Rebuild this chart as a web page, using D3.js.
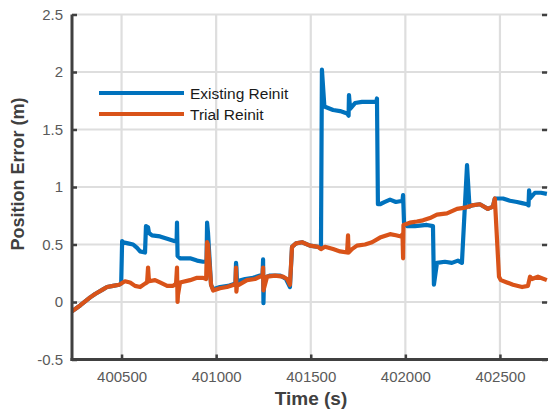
<!DOCTYPE html>
<html>
<head>
<meta charset="utf-8">
<script src="https://cdn.jsdelivr.net/npm/d3@7"></script>
<style>
  html, body { margin: 0; padding: 0; background: #fff; }
  svg { display: block; font-family: "Liberation Sans", Arial, sans-serif; }
</style>
</head>
<body>
<svg id="chart" width="548" height="414"></svg>
<script>
// Position error over time for the two reinitialisation strategies: [time (s), error (m)]
const existingReinit = [
  [400238, -0.08], [400281, -0.03], [400334, 0.04], [400360, 0.07], [400402, 0.11], [400423, 0.13],
  [400455, 0.14], [400487, 0.15], [400498, 0.16], [400503, 0.53], [400508, 0.52], [400534, 0.51],
  [400561, 0.50], [400582, 0.47], [400598, 0.44], [400624, 0.43], [400629, 0.66], [400640, 0.65],
  [400645, 0.60], [400661, 0.58], [400703, 0.57], [400741, 0.55], [400778, 0.53], [400791, 0.53],
  [400793, 0.69], [400796, 0.40], [400809, 0.38], [400862, 0.38], [400899, 0.36], [400931, 0.35],
  [400949, 0.35], [400952, 0.69], [400957, 0.60], [400973, 0.15], [400984, 0.11], [401020, 0.13],
  [401063, 0.14], [401102, 0.16], [401105, 0.34], [401107, 0.30], [401110, 0.18], [401153, 0.20],
  [401195, 0.21], [401232, 0.23], [401245, 0.23], [401248, 0.37], [401250, -0.01], [401253, 0.21],
  [401285, 0.23], [401338, 0.23], [401369, 0.20], [401390, 0.13], [401401, 0.48], [401422, 0.51],
  [401454, 0.52], [401496, 0.49], [401538, 0.48], [401554, 0.47], [401559, 2.02], [401572, 1.70],
  [401618, 1.67], [401655, 1.66], [401692, 1.64], [401700, 1.62], [401702, 1.80], [401708, 1.68],
  [401734, 1.73], [401771, 1.74], [401824, 1.74], [401847, 1.74], [401850, 1.77], [401855, 0.85],
  [401866, 0.85], [401892, 0.87], [401919, 0.89], [401950, 0.87], [401985, 0.88], [401988, 0.93],
  [401993, 0.69], [402009, 0.66], [402051, 0.66], [402114, 0.67], [402146, 0.66], [402151, 0.15],
  [402167, 0.34], [402209, 0.35], [402246, 0.34], [402278, 0.36], [402299, 0.34], [402326, 1.19],
  [402339, 0.83], [402352, 0.84], [402394, 0.85], [402436, 0.81], [402463, 0.83], [402473, 0.90],
  [402516, 0.90], [402553, 0.88], [402590, 0.87], [402617, 0.86], [402643, 0.85], [402651, 0.84],
  [402654, 0.97], [402659, 0.90], [402685, 0.95], [402717, 0.95], [402748, 0.94]
];

const trialReinit = [
  [400238, -0.08], [400281, -0.03], [400334, 0.04], [400360, 0.07], [400402, 0.11], [400423, 0.13],
  [400455, 0.14], [400487, 0.15], [400518, 0.18], [400545, 0.17], [400571, 0.14], [400598, 0.13],
  [400624, 0.16], [400635, 0.17], [400640, 0.30], [400645, 0.18], [400677, 0.19], [400703, 0.17],
  [400741, 0.14], [400772, 0.14], [400788, 0.16], [400793, 0.30], [400796, 0.00], [400798, 0.06],
  [400809, 0.17], [400862, 0.19], [400899, 0.21], [400931, 0.21], [400947, 0.20], [400952, 0.52],
  [400957, 0.50], [400973, 0.15], [400984, 0.10], [401020, 0.12], [401057, 0.13], [401094, 0.15],
  [401102, 0.15], [401105, 0.30], [401107, 0.09], [401110, 0.14], [401163, 0.19], [401205, 0.20],
  [401232, 0.22], [401245, 0.22], [401248, 0.30], [401250, 0.10], [401253, 0.12], [401269, 0.22],
  [401311, 0.23], [401353, 0.22], [401375, 0.20], [401390, 0.15], [401401, 0.48], [401422, 0.51],
  [401454, 0.52], [401496, 0.49], [401538, 0.48], [401554, 0.46], [401575, 0.48], [401618, 0.46],
  [401655, 0.44], [401692, 0.43], [401697, 0.58], [401700, 0.43], [401718, 0.46], [401744, 0.49],
  [401787, 0.50], [401824, 0.52], [401866, 0.56], [401919, 0.59], [401950, 0.58], [401977, 0.57],
  [401985, 0.59], [401988, 0.38], [401990, 0.67], [402024, 0.69], [402061, 0.70], [402093, 0.71],
  [402130, 0.73], [402167, 0.76], [402220, 0.77], [402273, 0.81], [402315, 0.82], [402352, 0.84],
  [402394, 0.85], [402436, 0.81], [402463, 0.83], [402473, 0.90], [402495, 0.22], [402505, 0.19],
  [402537, 0.17], [402569, 0.15], [402617, 0.13], [402648, 0.14], [402659, 0.22], [402669, 0.20],
  [402701, 0.22], [402748, 0.19]
];

const xTicks = [400500, 401000, 401500, 402000, 402500];
const yTicks = [-0.5, 0, 0.5, 1, 1.5, 2, 2.5];
const seriesNames = ["Existing Reinit", "Trial Reinit"];
const seriesColors = ["#0072BD", "#D95319"];

const svg = d3.select("#chart");
const plot = { left: 72, right: 548, top: 14.5, bottom: 359.5 };

const x = d3.scaleLinear().domain([400238, 402754]).range([plot.left, plot.right]);
const y = d3.scaleLinear().domain([-0.5, 2.5]).range([plot.bottom, plot.top]);

svg.append("rect").attr("width", 548).attr("height", 414).attr("fill", "#fff");

// grid
const grid = svg.append("g").attr("stroke", "#dedede").attr("stroke-width", 2.2);
grid.selectAll(".gx").data(xTicks).join("line")
  .attr("x1", d => x(d)).attr("x2", d => x(d))
  .attr("y1", plot.top).attr("y2", plot.bottom);
grid.selectAll(".gy").data(yTicks).join("line")
  .attr("x1", plot.left).attr("x2", plot.right)
  .attr("y1", d => y(d)).attr("y2", d => y(d));

// data lines
svg.append("clipPath").attr("id", "clip").append("rect")
  .attr("x", plot.left).attr("y", plot.top)
  .attr("width", plot.right - plot.left).attr("height", plot.bottom - plot.top);

const line = d3.line().x(d => x(d[0])).y(d => y(d[1]));
const lines = svg.append("g").attr("clip-path", "url(#clip)");
[existingReinit, trialReinit].forEach((s, i) => {
  lines.append("path").datum(s)
    .attr("d", line)
    .attr("fill", "none")
    .attr("stroke", seriesColors[i])
    .attr("stroke-width", 4.2)
    .attr("stroke-linejoin", "round")
    .attr("stroke-linecap", "butt");
});

// axes
const axisColor = "#404040";
const yAxis = svg.append("g").attr("transform", `translate(${plot.left},0)`)
  .call(d3.axisLeft(y).tickValues(yTicks).tickSize(-5).tickPadding(9)
    .tickFormat(d => String(d)));
const yAxisR = svg.append("g").attr("transform", `translate(${plot.right - 1},0)`)
  .call(d3.axisRight(y).tickValues(yTicks).tickSize(-5).tickFormat(""));
const xAxis = svg.append("g").attr("transform", `translate(0,${plot.bottom})`)
  .call(d3.axisBottom(x).tickValues(xTicks).tickSize(-5).tickPadding(12)
    .tickFormat(d => String(d)));

[yAxis, yAxisR, xAxis].forEach(g => {
  g.select(".domain").attr("stroke", axisColor).attr("stroke-width", 3);
  g.selectAll(".tick line").attr("stroke", axisColor).attr("stroke-width", 2.5);
  g.selectAll(".tick text").attr("fill", "#5a5a5a").attr("font-size", 15)
    .attr("font-family", "'Liberation Sans', Arial, sans-serif");
});
yAxisR.select(".domain").remove();
yAxis.select(".domain").attr("d", `M0,${plot.top}V${plot.bottom + 1.5}`);
xAxis.select(".domain").attr("d", `M${plot.left - 1.5},0H${plot.right}`);

// axis titles
svg.append("text")
  .attr("x", 311).attr("y", 405)
  .attr("text-anchor", "middle")
  .attr("font-size", 19).attr("font-weight", "bold").attr("fill", axisColor)
  .text("Time (s)");
svg.append("text")
  .attr("transform", "translate(24,174) rotate(-90)")
  .attr("text-anchor", "middle")
  .attr("font-size", 18).attr("font-weight", "bold").attr("fill", axisColor)
  .text("Position Error (m)");

// legend
const legend = svg.append("g");
seriesNames.forEach((name, i) => {
  const ly = 93 + i * 21;
  legend.append("line")
    .attr("x1", 99).attr("x2", 184).attr("y1", ly).attr("y2", ly)
    .attr("stroke", seriesColors[i]).attr("stroke-width", 4);
  legend.append("text")
    .attr("x", 190).attr("y", ly + 5.5)
    .attr("font-size", 15.5).attr("fill", "#1a1a1a")
    .text(name);
});
</script>
</body>
</html>
